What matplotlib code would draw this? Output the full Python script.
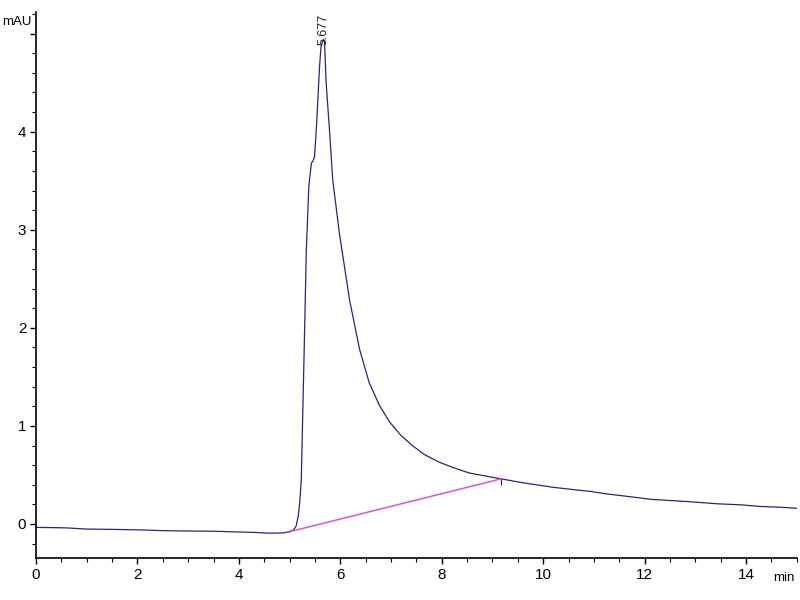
import matplotlib
matplotlib.use("Agg")
import matplotlib.pyplot as plt
from matplotlib.ticker import MultipleLocator, FixedLocator

# ---- data ----
time_min = [0.0, 0.3, 0.6, 1.0, 1.5, 2.0, 2.5, 3.0, 3.5, 4.0, 4.3, 4.6, 4.85, 5.0,
            5.08, 5.13, 5.17, 5.2, 5.23, 5.28, 5.33, 5.38, 5.43, 5.46, 5.49, 5.53,
            5.59, 5.62, 5.65, 5.677, 5.69, 5.72, 5.79, 5.85, 5.98, 6.18, 6.38, 6.57,
            6.77, 6.97, 7.2, 7.42, 7.65, 7.95, 8.25, 8.54, 8.85, 9.17, 9.6, 10.18,
            10.6, 10.96, 11.2, 11.6, 12.15, 12.8, 13.46, 13.9, 14.3, 14.7, 15.0]
signal_mau = [-0.035, -0.037, -0.04, -0.052, -0.055, -0.06, -0.068, -0.072, -0.074, -0.082, -0.086, -0.094, -0.092, -0.08,
              -0.06, -0.02, 0.08, 0.22, 0.45, 1.6, 2.8, 3.45, 3.68, 3.70, 3.74, 4.05,
              4.66, 4.87, 4.92, 4.94, 4.90, 4.50, 3.99, 3.51, 2.97, 2.29, 1.78, 1.44,
              1.21, 1.04, 0.90, 0.80, 0.71, 0.63, 0.57, 0.52, 0.49, 0.46, 0.42, 0.375,
              0.35, 0.33, 0.31, 0.285, 0.25, 0.23, 0.205, 0.195, 0.178, 0.17, 0.16]

baseline_t = [5.03, 9.17]
baseline_y = [-0.075, 0.46]

peak_rt = 5.677
peak_height = 4.94
peak_label = "5.677"

x_major = [0, 2, 4, 6, 8, 10, 12, 14]
y_major = [0, 1, 2, 3, 4, 5]
y_labels = ["0", "1", "2", "3", "4", ""]

FONT = ["Liberation Sans", "DejaVu Sans"]

# ---- figure ----
fig = plt.figure(figsize=(8, 6), dpi=100)
ax = fig.add_axes([0.045, 0.07, 0.951, 0.91])

ax.plot(time_min, signal_mau, color="#26267a", lw=0.9)
ax.plot(baseline_t, baseline_y, color="#e050d8", lw=1.1)
ax.plot([baseline_t[1]], [baseline_y[1]], marker=3, color="#26267a",
        markersize=4, markeredgewidth=0.9)

ax.text(peak_rt, peak_height - 0.06, peak_label, rotation=90, ha="center",
        va="bottom", fontsize=9, color="#222222", family=FONT)

ax.set_xlim(0, 15)
ax.set_ylim(-0.347, 5.22)

for s in ("top", "right"):
    ax.spines[s].set_visible(False)
for s in ("left", "bottom"):
    ax.spines[s].set_linewidth(1.2)

ax.xaxis.set_major_locator(FixedLocator(x_major))
ax.xaxis.set_minor_locator(MultipleLocator(0.5))
ax.yaxis.set_major_locator(FixedLocator(y_major))
ax.yaxis.set_minor_locator(MultipleLocator(0.2))
ax.set_yticklabels(y_labels)

ax.tick_params(axis="both", which="major", direction="out", length=4, width=1,
               labelsize=11, pad=3)
ax.tick_params(axis="both", which="minor", direction="out", length=3, width=0.8)
for lab in ax.get_xticklabels() + ax.get_yticklabels():
    lab.set_family(FONT)

fig.text(0.003, 0.963, "mAU", fontsize=9.5, family=FONT,
         ha="left", va="center")
fig.text(0.993, 0.037, "min", fontsize=9.5, family=FONT,
         ha="right", va="center")

fig.savefig("out.png", dpi=100)
